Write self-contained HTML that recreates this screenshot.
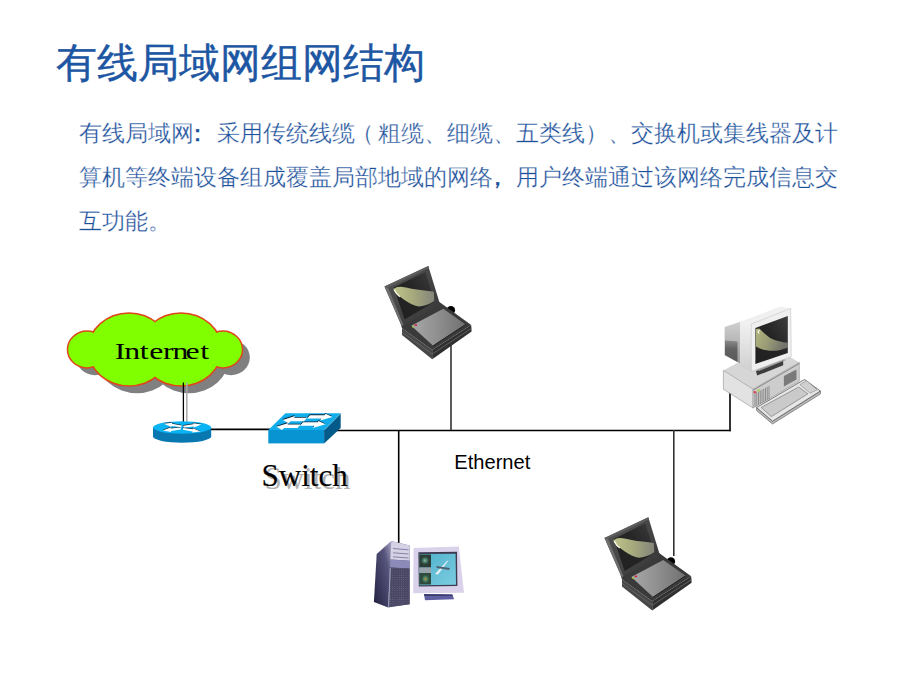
<!DOCTYPE html>
<html><head><meta charset="utf-8">
<style>
html,body{margin:0;padding:0;background:#fff;}
body{width:920px;height:690px;position:relative;overflow:hidden;font-family:"Liberation Sans",sans-serif;}
.t{position:absolute;white-space:nowrap;}
#title{left:56px;top:39px;font-size:41px;line-height:48px;color:#1D56A2;-webkit-text-stroke:0.35px #1D56A2;}
.bl{left:79px;font-size:23px;line-height:30px;color:#1A4F9A;-webkit-text-stroke:0.3px #fff;}
svg{position:absolute;left:0;top:0;}
.pc{position:relative;-webkit-text-stroke:0.5px #1A4F9A;}
</style></head><body>
<div id="title" class="t">有线局域网组网结构</div>
<div class="t bl" style="top:118px">有线局域网<span class="pc" style="left:-8px">：</span>采用传统线缆<span style="position:relative;left:-4px">（</span>粗缆、细缆、五类线）、交换机或集线器及计</div>
<div class="t bl" style="top:162px">算机等终端设备组成覆盖局部地域的网络<span class="pc" style="left:-7.5px">，</span>用户终端通过该网络完成信息交</div>
<div class="t bl" style="top:206px">互功能。</div>

<svg width="920" height="690" viewBox="0 0 920 690">
<defs>
<linearGradient id="lidg" x1="0" y1="0" x2="1" y2="1">
 <stop offset="0" stop-color="#555555"/><stop offset="1" stop-color="#353535"/>
</linearGradient>
<linearGradient id="scrg" x1="0" y1="1" x2="1" y2="0">
 <stop offset="0" stop-color="#202020"/><stop offset="0.55" stop-color="#252525"/><stop offset="1" stop-color="#3e3e3e"/>
</linearGradient>
<linearGradient id="hlg" x1="0" y1="0" x2="1" y2="0">
 <stop offset="0" stop-color="#c0c48c"/><stop offset="0.5" stop-color="#a4a87c"/><stop offset="1" stop-color="#84847a"/>
</linearGradient>
<linearGradient id="hlg2" x1="0" y1="0" x2="1" y2="0.3">
 <stop offset="0" stop-color="#b2b67c"/><stop offset="0.5" stop-color="#9a9c76"/><stop offset="1" stop-color="#74746c"/>
</linearGradient>
<linearGradient id="kbg" x1="0" y1="0" x2="1" y2="0">
 <stop offset="0" stop-color="#a8a8a8"/><stop offset="0.5" stop-color="#8e8e8e"/><stop offset="1" stop-color="#707070"/>
</linearGradient>
<linearGradient id="crtback" x1="0" y1="0" x2="0" y2="1">
 <stop offset="0" stop-color="#d0d0d0"/><stop offset="1" stop-color="#9a9a9a"/>
</linearGradient>
<linearGradient id="twside" x1="1" y1="0" x2="0" y2="1">
 <stop offset="0" stop-color="#a8a4c4"/><stop offset="0.3" stop-color="#55537a"/><stop offset="1" stop-color="#222140"/>
</linearGradient>
<linearGradient id="wscr" x1="0" y1="0" x2="1" y2="1">
 <stop offset="0" stop-color="#4eb0cc"/><stop offset="1" stop-color="#7ccde0"/>
</linearGradient>
<linearGradient id="ventg" x1="0" y1="0" x2="0" y2="1">
 <stop offset="0" stop-color="#8a8a8a"/><stop offset="0.4" stop-color="#626262"/><stop offset="1" stop-color="#5a5a5a"/>
</linearGradient>
<linearGradient id="bezl" x1="0" y1="0" x2="0" y2="1">
 <stop offset="0" stop-color="#f2f2f2"/><stop offset="1" stop-color="#cfcfcf"/>
</linearGradient>
<radialGradient id="rg1"><stop offset="0" stop-color="#8ab8a0"/><stop offset="0.5" stop-color="#3e7060"/><stop offset="1" stop-color="#2c3c34" stop-opacity="0"/></radialGradient>
<radialGradient id="rg2"><stop offset="0" stop-color="#c08850"/><stop offset="0.5" stop-color="#3c8060"/><stop offset="1" stop-color="#2e4a3c" stop-opacity="0"/></radialGradient>
<pattern id="mesh" width="2.2" height="2.2" patternUnits="userSpaceOnUse">
 <rect width="2.2" height="2.2" fill="#3e3c58"/><circle cx="1.1" cy="1.1" r="0.6" fill="#726f8e"/><circle cx="0" cy="0" r="0.5" fill="#605e7c"/><circle cx="2.2" cy="2.2" r="0.5" fill="#605e7c"/><circle cx="0" cy="2.2" r="0.5" fill="#605e7c"/><circle cx="2.2" cy="0" r="0.5" fill="#605e7c"/>
</pattern>
<pattern id="vent" width="1.6" height="10" patternUnits="userSpaceOnUse">
 <rect width="1.6" height="10" fill="#b4b4b4"/><rect width="0.8" height="10" fill="#6a6a6a"/>
</pattern>

<g id="laptop">
 <circle cx="450.9" cy="310.2" r="4.2" fill="#000"/>
 <polygon points="402,328.2 432.2,350 432.2,359.3 402,335.1" fill="#474747"/>
 <polygon points="432.2,350 471.2,324.9 471.6,331.4 432.2,359.3" fill="#303030"/>
 <polyline points="402,332 432.2,354 471.4,328.4" fill="none" stroke="#6a6a6a" stroke-width="0.8"/>
 <polygon points="400.6,323.5 438,301 471.2,324.9 432.2,350 402,328.2" fill="#3a3a3a"/>
 <polygon points="411.3,325.8 443.3,308.7 465.6,324.5 433.1,345.8" fill="url(#kbg)"/>
 <line x1="433.1" y1="345.8" x2="465.6" y2="324.5" stroke="#1a1a1a" stroke-width="0.9"/>
 <rect x="414.6" y="324.3" width="2.4" height="1.6" fill="#d02040"/>
 <rect x="412" y="326" width="2" height="1.5" fill="#a0c040"/>
 <polygon points="384.5,286.6 428.3,265.9 440.1,304.4 401.7,326" fill="url(#lidg)"/>
 <polygon points="384.5,286.6 387.2,285.4 403.5,325 401.7,326" fill="#6e6e6e"/>
 <polygon points="384.5,286.6 428.3,265.9 429,268 387.2,288" fill="#5e5e5e"/>
 <polygon points="393.8,287.6 425.3,271.9 434.7,301.4 404.7,319.6" fill="url(#scrg)"/>
 <path d="M393.3,289.0 L397.2,287.0 L400.9,286.7 L406.0,287.5 L411.7,288.7 L417.0,289.6 L422.6,290.3 L430.6,291.3 L433.8,291.8 L434.3,301.0 L430.5,303.3 L426.2,305.0 L422.5,306.0 L419.0,306.4 L415.5,305.8 L411.7,304.2 L408.0,302.2 L404.5,299.9 L399.4,296.3 L397.0,294.2 L395.1,291.9 Z" fill="url(#hlg)" stroke-linejoin="round"/>
 <path d="M394.2,289.8 C395.5,292.5 397.2,294.8 399.8,296.8" fill="none" stroke="#fafae8" stroke-width="1.3"/>
</g>
</defs>

<!-- lines -->
<g stroke="#000" stroke-width="1.6" fill="none">
<line x1="211" y1="429.4" x2="270" y2="429.4"/>
<line x1="323" y1="430.5" x2="730.5" y2="430.5"/>
<line x1="398.7" y1="430" x2="398.7" y2="547"/>
<line x1="673.8" y1="430" x2="673.8" y2="556" stroke="#333"/>
<line x1="730" y1="392" x2="730" y2="431.3"/>
<line x1="451" y1="344" x2="451" y2="430" stroke="#333"/>
</g>

<!-- cloud -->
<g transform="translate(8,8)" fill="#808080">
 <ellipse cx="129" cy="349.5" rx="40" ry="35.8"/><ellipse cx="181" cy="349.5" rx="40" ry="35.8"/>
 <ellipse cx="87" cy="349.5" rx="18.8" ry="17.7"/><ellipse cx="223" cy="349.5" rx="18.8" ry="17.7"/>
</g>
<g fill="#80FF00" stroke="#E0461C" stroke-width="3">
 <ellipse cx="129" cy="349.5" rx="40" ry="35.8"/><ellipse cx="181" cy="349.5" rx="40" ry="35.8"/>
 <ellipse cx="87" cy="349.5" rx="18.8" ry="17.7"/><ellipse cx="223" cy="349.5" rx="18.8" ry="17.7"/>
</g>
<g fill="#80FF00">
 <ellipse cx="129" cy="349.5" rx="40" ry="35.8"/><ellipse cx="181" cy="349.5" rx="40" ry="35.8"/>
 <ellipse cx="87" cy="349.5" rx="18.8" ry="17.7"/><ellipse cx="223" cy="349.5" rx="18.8" ry="17.7"/>
</g>
<line x1="183.4" y1="382.5" x2="183.4" y2="422" stroke="#000" stroke-width="1.3"/>
<line x1="186.8" y1="382.5" x2="186.8" y2="422" stroke="#a8a8a8" stroke-width="1.5"/>
<text transform="scale(1.38,1)" x="86.96 95.72 104.49 113.26 122.03 130.80 139.57 148.33" y="358.9" text-anchor="middle" font-family="Liberation Serif" font-size="23" fill="#000">Internet</text>

<!-- router -->
<g>
 <rect x="153" y="427.5" width="58.2" height="9" fill="#0A78B0"/>
 <ellipse cx="182.1" cy="436.5" rx="29.1" ry="6.2" fill="#0A78B0"/>
 <ellipse cx="182.1" cy="427.5" rx="29.1" ry="6.2" fill="#0AB4F4"/>
 <g fill="#1a3040" transform="translate(-0.3,-0.7)">
  <polygon points="163.8,423.8 171.4,427.1 171.6,426.1 181.4,427.2 181.6,425.4 171.9,423.7 172.0,422.7"/>
  <polygon points="162.8,430.6 171.0,431.9 170.9,430.9 180.9,429.4 180.7,427.6 170.6,428.5 170.5,427.5"/>
  <polygon points="201.5,424.4 193.3,423.2 193.4,424.2 183.4,425.7 183.6,427.5 193.7,426.6 193.8,427.6"/>
  <polygon points="200.5,431.6 192.9,428.2 192.8,429.2 183.1,428.0 182.9,429.8 192.4,431.6 192.3,432.6"/>
 </g>
 <g fill="#fff">
  <polygon points="163.8,423.8 171.4,427.1 171.6,426.1 181.4,427.2 181.6,425.4 171.9,423.7 172.0,422.7"/>
  <polygon points="162.8,430.6 171.0,431.9 170.9,430.9 180.9,429.4 180.7,427.6 170.6,428.5 170.5,427.5"/>
  <polygon points="201.5,424.4 193.3,423.2 193.4,424.2 183.4,425.7 183.6,427.5 193.7,426.6 193.8,427.6"/>
  <polygon points="200.5,431.6 192.9,428.2 192.8,429.2 183.1,428.0 182.9,429.8 192.4,431.6 192.3,432.6"/>
 </g>
</g>

<!-- switch -->
<g>
 <polygon points="268.3,430 285.4,413.3 340.7,413.3 324.1,430" fill="#12AEEC"/>
 <rect x="268.3" y="430" width="55.8" height="13.4" fill="#0893D3"/>
 <polygon points="324.1,430 340.7,413.3 340.7,428 324.1,443.4" fill="#045A88"/>
 <line x1="324.1" y1="430.3" x2="340.7" y2="413.6" stroke="#7fd4f4" stroke-width="0.6"/>
 <g fill="#0a2a40" transform="translate(-0.3,-0.9)">
  <polygon points="282.8,420 295,416 294,417.8 307,417.8 304,421.2 290.6,421.2 288.5,423.2"/>
  <polygon points="276.3,426.8 288.5,423 287.5,424.6 300.5,424.6 297.5,428 284.2,428 282,430"/>
  <polygon points="332.5,417 325.5,413.8 324.6,415.2 310,415.2 307,418.5 321.3,418.5 320,420.6"/>
  <polygon points="325.5,424.3 318.5,421 317.6,422.3 303,422.3 300,425.7 314.3,425.7 313,428"/>
 </g>
 <g fill="#fff">
  <polygon points="282.8,420 295,416 294,417.8 307,417.8 304,421.2 290.6,421.2 288.5,423.2"/>
  <polygon points="276.3,426.8 288.5,423 287.5,424.6 300.5,424.6 297.5,428 284.2,428 282,430"/>
  <polygon points="332.5,417 325.5,413.8 324.6,415.2 310,415.2 307,418.5 321.3,418.5 320,420.6"/>
  <polygon points="325.5,424.3 318.5,421 317.6,422.3 303,422.3 300,425.7 314.3,425.7 313,428"/>
 </g>
</g>

<!-- Switch label -->
<text x="264.4" y="489" font-family="Liberation Serif" font-size="31" fill="#b0b0b0">Switch</text>
<text x="261.6" y="486.3" font-family="Liberation Serif" font-size="31" fill="#000" stroke="#000" stroke-width="0.15">Switch</text>
<!-- Ethernet label -->
<text x="454.3" y="469.2" font-family="Liberation Sans" font-size="20.1" fill="#000">Ethernet</text>

<!-- laptops -->
<use href="#laptop"/>
<use href="#laptop" transform="translate(220,251.3)"/>

<!-- desktop pc -->
<g>
 <!-- case -->
 <polygon points="723.4,370.4 770,345 799.3,362.4 753.1,389.2" fill="#d6d6d6"/>
 <polygon points="723.4,370.4 753.1,389.2 753.1,408.1 723.4,389.2" fill="#e2e2e2" stroke="#909090" stroke-width="0.6"/>
 <polygon points="753.1,389.2 799.3,362.4 799.3,381.2 753.1,408.1" fill="#cdcdcd" stroke="#909090" stroke-width="0.6"/>
 <line x1="753.1" y1="390.2" x2="799.3" y2="363.6" stroke="#8a8a8a" stroke-width="1"/>
 <g stroke="#7c7c7c" stroke-width="0.8"><line x1="755.00" y1="393.24" x2="755.00" y2="406.74"/><line x1="756.75" y1="392.34" x2="756.75" y2="405.84"/><line x1="758.50" y1="391.43" x2="758.50" y2="404.93"/><line x1="760.25" y1="390.53" x2="760.25" y2="404.03"/><line x1="762.00" y1="389.62" x2="762.00" y2="403.12"/><line x1="763.75" y1="388.72" x2="763.75" y2="402.22"/><line x1="765.50" y1="387.81" x2="765.50" y2="401.31"/><line x1="767.25" y1="386.91" x2="767.25" y2="400.41"/><line x1="769.00" y1="386.00" x2="769.00" y2="399.50"/></g>
 <polygon points="783.9,376.1 796.5,369.4 796.5,379.5 783.9,386.4" fill="#7a7a7a"/>
 <rect x="753.6" y="391.2" width="2.6" height="2" fill="#e03a50"/><rect x="757.2" y="389.4" width="2.6" height="2" fill="#b0d050"/>
 <!-- monitor stand -->
 <polygon points="756,371 783.2,360 783.2,365.2 757.1,375.6" fill="#3c3c3c"/>
 <polygon points="756,370 783.2,359 786,360 759,371" fill="#9a9a9a"/>
 <!-- monitor back -->
 <polygon points="724.6,326.9 740.3,321.7 740.3,363.5 724.6,355.3" fill="url(#crtback)"/>
 <polygon points="725,340.5 737.5,341.5 737.5,362 725,355" fill="url(#ventg)"/>
 <!-- bezel -->
 <polygon points="740.3,321.7 780.3,306.6 790.7,308.4 751.3,324" fill="#f0f0f0"/>
 <polygon points="740.3,321.7 751.3,324 751.3,371.6 740.3,366.9" fill="url(#bezl)"/>
 <polygon points="751.3,324 790.7,308.4 791.3,356.5 751.3,371.6" fill="#efefef" stroke="#c4c4c4" stroke-width="0.6"/>
 <polygon points="755.4,328.1 787.8,315.9 787.8,353 755.4,364" fill="url(#scrg)"/>
 <path d="M755.9,328.9 L759.4,328.4 C762,331 767,336.5 772.2,339.1 C776,341 782,342.2 788,342.8 L788,347.4 C783,349.4 778,350.8 772,350.8 C766,350.6 761,349.5 755.9,346.5 Z" fill="url(#hlg2)"/>
 <path d="M757.5,331 C758.5,330 759.5,329.8 760.2,330 C759,331 758.6,332.5 759.5,334.5 C758.3,333.8 757.6,332.5 757.5,331 Z" fill="#f8f8e8"/>
 <!-- keyboard -->
 <polygon points="756.5,407.5 756.5,410.5 772.5,424 820.4,394 820.4,391 772.5,421.2" fill="#b8b8b8" stroke="#5a5a5a" stroke-width="0.6"/>
 <polygon points="756.5,407.5 804.5,379.5 820.4,391 772.5,421.2" fill="#e6e6e6" stroke="#5a5a5a" stroke-width="0.8"/>
 <polygon points="761.1,407.5 798.7,387 807.9,393.8 771.4,416.6" fill="#cacaca" stroke="#6a6a6a" stroke-width="0.6"/>
 <polygon points="799.9,384.7 806.7,380.7 817,389.8 810.2,393.2" fill="#d0d0d0" stroke="#7a7a7a" stroke-width="0.5"/>
</g>

<!-- workstation -->
<g>
 <polygon points="376.7,554 391.2,541.1 388.2,607.5 373.9,602" fill="url(#twside)"/>
 <polygon points="391.2,541.1 409.6,545.6 409.6,604.2 388.2,607.5" fill="#5a5878"/>
 <polygon points="391.2,541.1 409.6,545.6 409.6,560.7 390.4,559.5" fill="#d6d2e6"/>
 <g stroke="#7a78a0" stroke-width="0.9"><line x1="393" y1="548.5" x2="408.5" y2="549.8"/><line x1="393" y1="552.8" x2="408.5" y2="554"/><line x1="393" y1="556.8" x2="408.5" y2="558"/></g>
 <polygon points="390.4,559.5 409.6,560.7 409.6,568.5 390,567.6" fill="#8c8ab8"/>
 <polygon points="390,567.6 409.6,568.5 409.6,604.2 388.4,607" fill="url(#mesh)"/>
 <line x1="390.3" y1="568" x2="388.6" y2="606.8" stroke="#a4a2c0" stroke-width="1"/>
 <!-- monitor -->
 <polygon points="413.6,548 458.8,546.6 464,592.7 413.2,593.2" fill="#dad2ea"/>
 <polygon points="418.4,552.2 457,551.8 457.4,586.1 418.8,586.6" fill="#3e3a52"/>
 <polygon points="419.3,554.1 455.6,553.7 456,584.7 419.3,585.2" fill="url(#wscr)"/>
 <rect x="419.3" y="554.5" width="11.7" height="13" fill="#2c3c34"/>
 <rect x="419.3" y="567.5" width="11.7" height="5.5" fill="#98a4ac"/>
 <rect x="419.3" y="573" width="11.7" height="11.5" fill="#2e4a3c"/>
 <ellipse cx="425.5" cy="579" rx="4.5" ry="5" fill="url(#rg2)"/>
 <ellipse cx="425" cy="560.5" rx="5" ry="5" fill="url(#rg1)"/>
 <path d="M435,574 L447,561 L448.5,560.5 L438,574.5 Z" fill="#e8f0f4"/>
 <path d="M436,566 L450,568 L449,570 L437,568 Z" fill="#506070"/>
 <polygon points="424,594.1 452.3,594.6 454.1,599.3 425,600.3" fill="#5e5ea0"/>
 <polygon points="424,594.1 452.3,594.6 452.8,596 424.3,596" fill="#3e3e70"/>
</g>
</svg>
</body></html>
